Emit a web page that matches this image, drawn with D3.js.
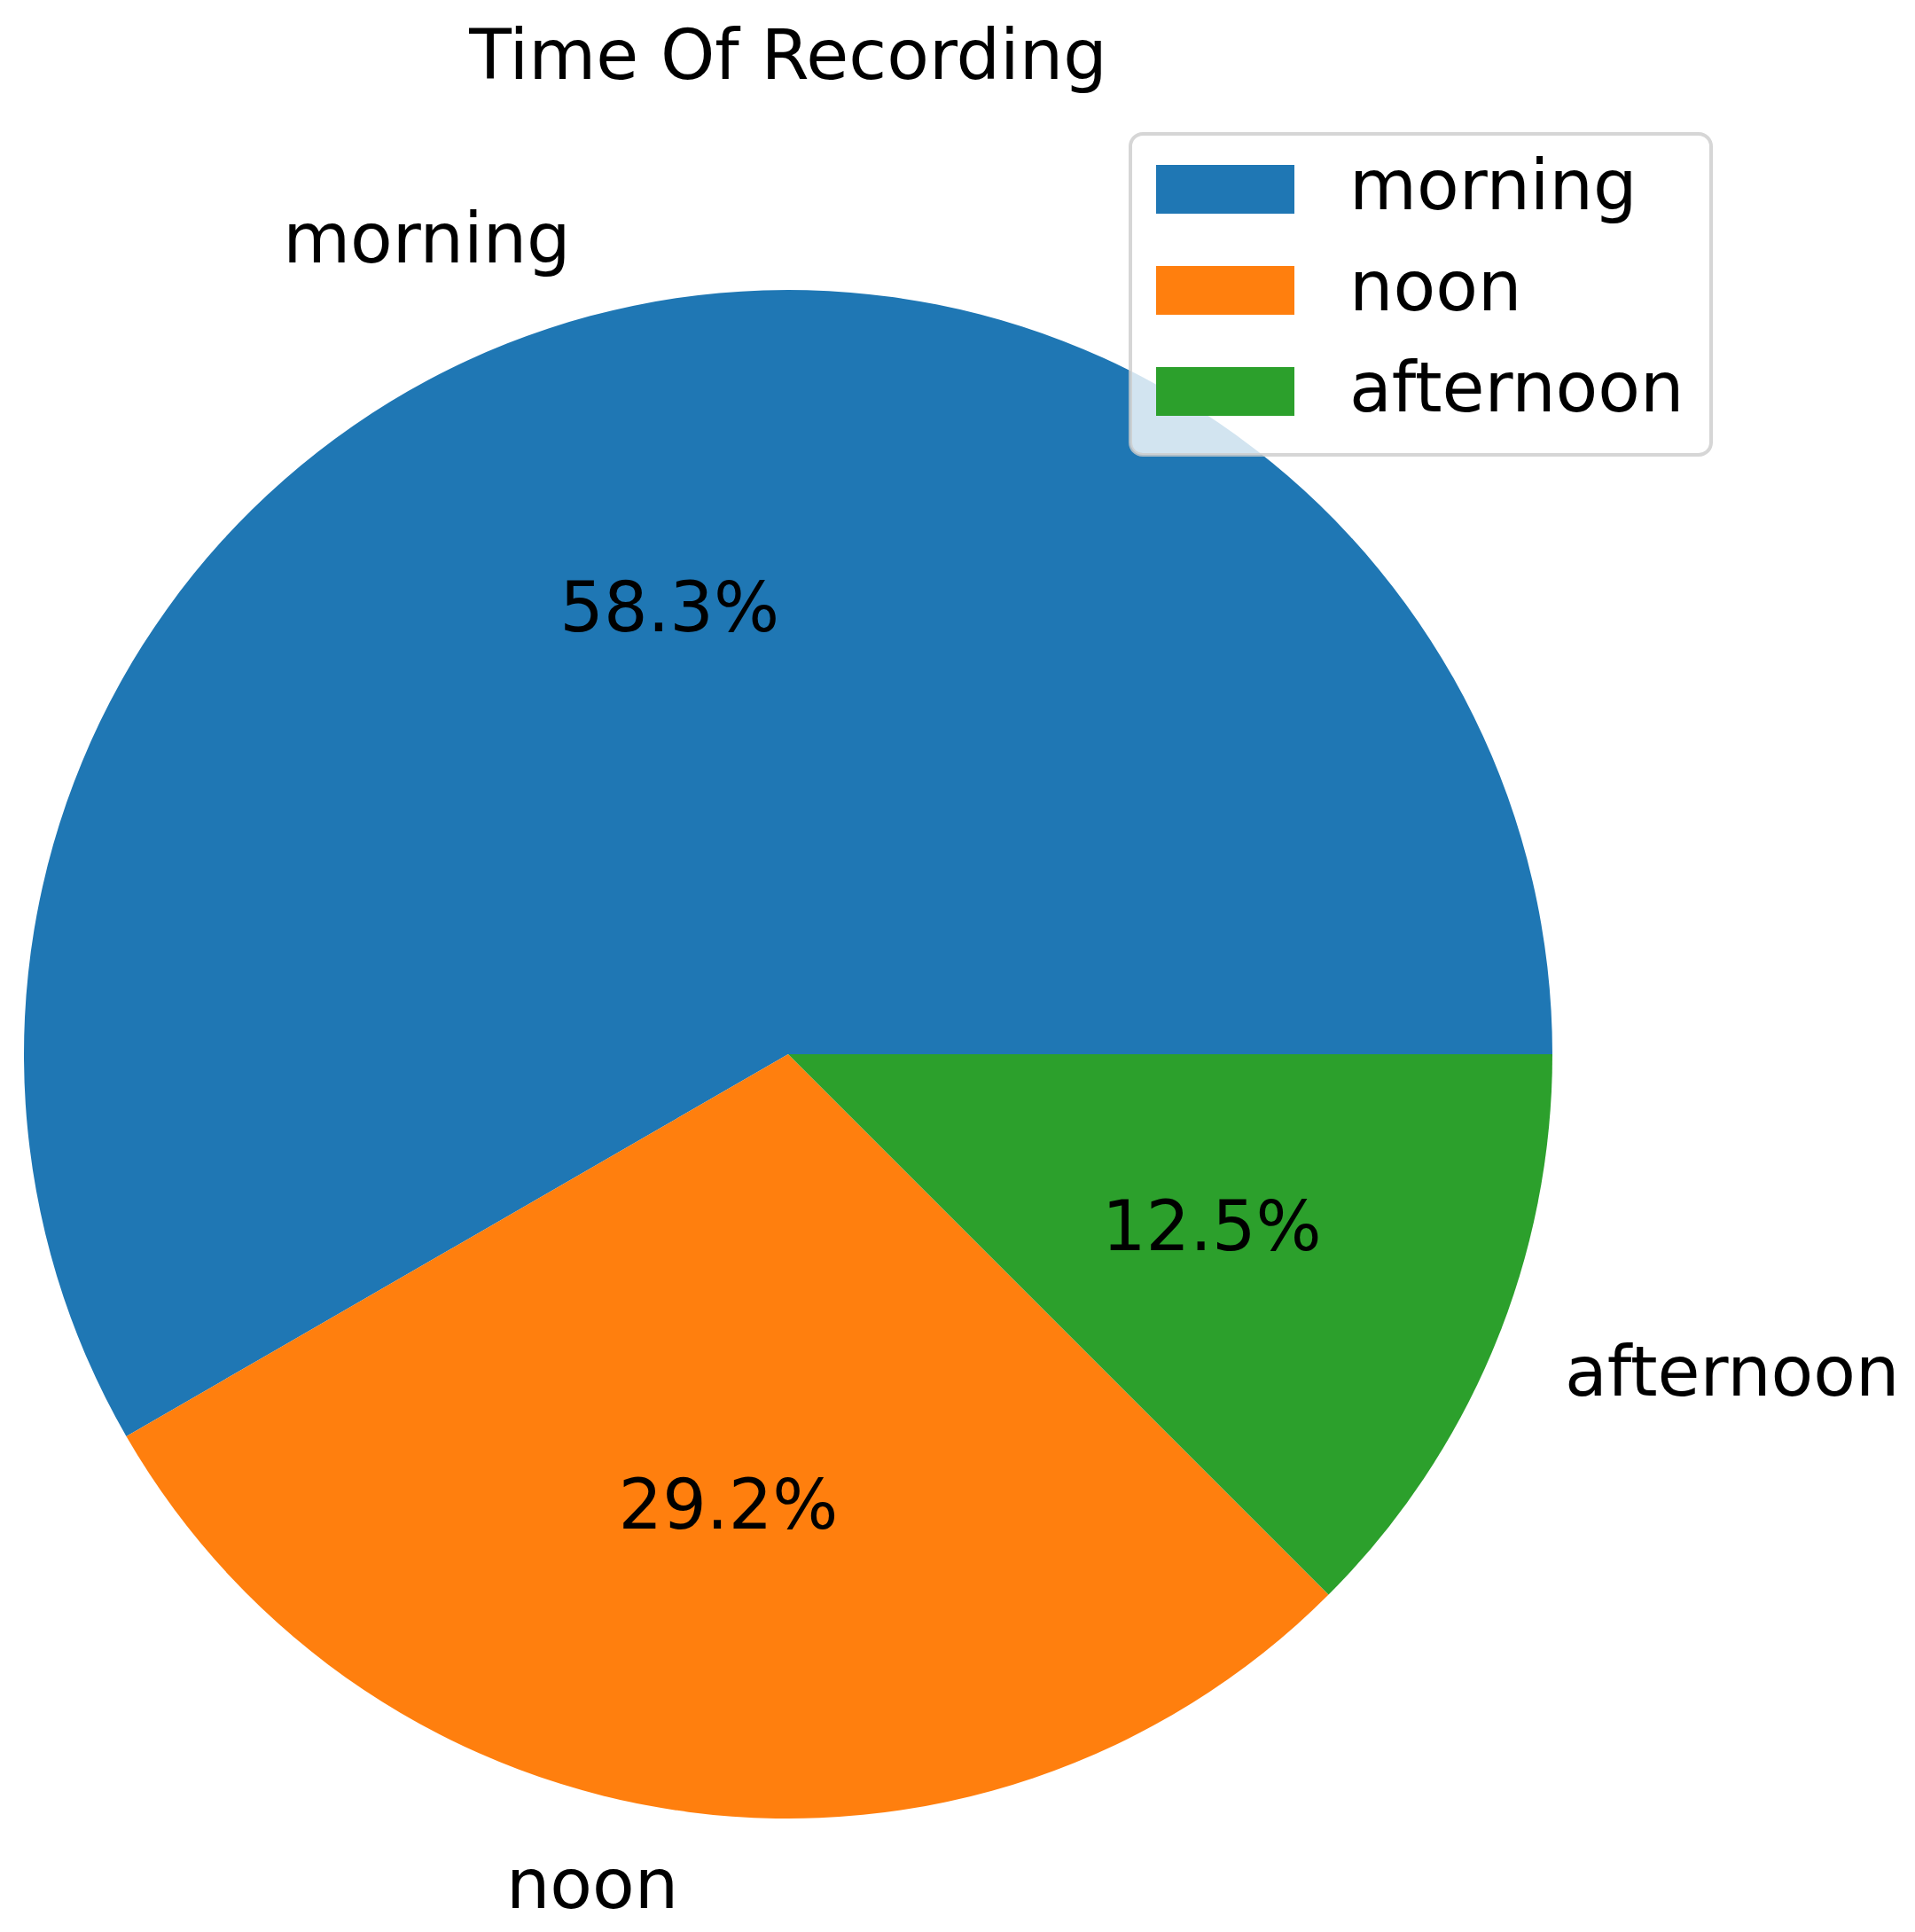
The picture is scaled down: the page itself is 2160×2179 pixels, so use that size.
<!DOCTYPE html>
<html>
<head>
<meta charset="utf-8">
<script src="https://cdn.jsdelivr.net/npm/d3@7"></script>
<style>
  body { margin: 0; background: #fff; }
  text { font-family: "DejaVu Sans", sans-serif; fill: #000; }
</style>
</head>
<body>
<div id="chart"></div>
<script>
//////////// DATA ////////////
var categories = ["morning", "noon", "afternoon"];
var counts     = [14, 7, 3];
var colors     = ["#1f77b4", "#ff7f0e", "#2ca02c"];
var title      = "Time Of Recording";

//////////// CONFIG ////////////
var width = 2160, height = 2179;
var cx = 889, cy = 1189, radius = 862;
var fontSize = 78;
var baselineShift = 0.29 * fontSize;   // matplotlib va=center -> baseline offset

var svg = d3.select("#chart").append("svg")
    .attr("width", width)
    .attr("height", height);

// title
svg.append("text")
    .attr("x", cx)
    .attr("y", 89)
    .attr("text-anchor", "middle")
    .style("font-size", fontSize + "px")
    .text(title);

// matplotlib starts at 3 o'clock and goes counter-clockwise
var pie = d3.pie()
    .sort(null)
    .startAngle(Math.PI / 2)
    .endAngle(Math.PI / 2 - 2 * Math.PI);

var slices = pie(counts);
var total = d3.sum(counts);

var arc = d3.arc().innerRadius(0).outerRadius(radius);
var labelArc = d3.arc().innerRadius(radius * 1.1).outerRadius(radius * 1.1);
var pctArc = d3.arc().innerRadius(radius * 0.6).outerRadius(radius * 0.6);

var g = svg.append("g").attr("transform", "translate(" + cx + "," + cy + ")");

g.selectAll("path.wedge")
    .data(slices)
    .enter().append("path")
    .attr("class", "wedge")
    .attr("d", arc)
    .attr("fill", function(d, i) { return colors[i]; });

// outer category labels
g.selectAll("text.label")
    .data(slices)
    .enter().append("text")
    .attr("class", "label")
    .attr("x", function(d) { return labelArc.centroid(d)[0]; })
    .attr("y", function(d) { return labelArc.centroid(d)[1] + baselineShift; })
    .attr("text-anchor", function(d) { return labelArc.centroid(d)[0] < 0 ? "end" : "start"; })
    .style("font-size", fontSize + "px")
    .text(function(d, i) { return categories[i]; });

// percentage labels
g.selectAll("text.pct")
    .data(slices)
    .enter().append("text")
    .attr("class", "pct")
    .attr("x", function(d) { return pctArc.centroid(d)[0]; })
    .attr("y", function(d) { return pctArc.centroid(d)[1] + baselineShift; })
    .attr("text-anchor", "middle")
    .style("font-size", fontSize + "px")
    .text(function(d) { return (d.value / total * 100).toFixed(1) + "%"; });

//////////// LEGEND ////////////
var legend = svg.append("g").attr("class", "legend");

legend.append("rect")
    .attr("x", 1275).attr("y", 151)
    .attr("width", 655).attr("height", 362)
    .attr("rx", 14).attr("ry", 14)
    .attr("fill", "#fff").attr("fill-opacity", 0.8)
    .attr("stroke", "#cccccc").attr("stroke-opacity", 0.8)
    .attr("stroke-width", 4);

var rowY = d3.scalePoint().domain(categories).range([213, 441]);

var rows = legend.selectAll("g.row")
    .data(categories)
    .enter().append("g")
    .attr("class", "row")
    .attr("transform", function(d) { return "translate(0," + rowY(d) + ")"; });

rows.append("rect")
    .attr("x", 1304).attr("y", -27)
    .attr("width", 156).attr("height", 55)
    .attr("fill", function(d, i) { return colors[i]; });

rows.append("text")
    .attr("x", 1522)
    .attr("y", baselineShift)
    .style("font-size", fontSize + "px")
    .text(function(d) { return d; });
</script>
</body>
</html>
